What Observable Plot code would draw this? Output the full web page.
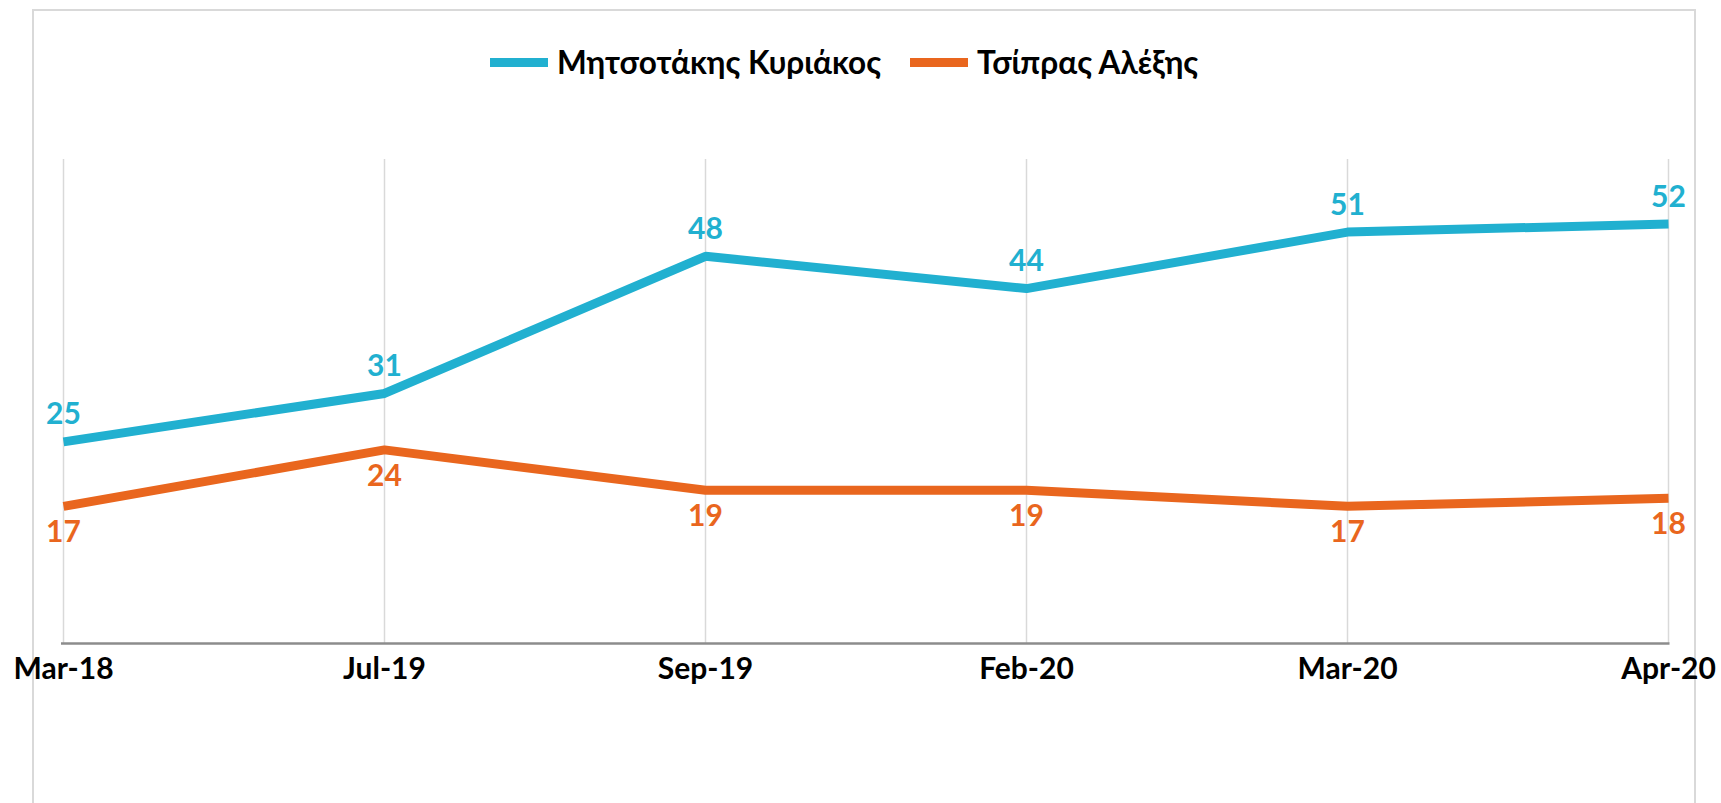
<!DOCTYPE html>
<html>
<head>
<meta charset="utf-8">
<script src="https://cdn.jsdelivr.net/npm/d3@7"></script>
<script src="https://cdn.jsdelivr.net/npm/@observablehq/plot@0.6"></script>
<style>
  html, body { margin: 0; padding: 0; background: #fff; overflow: hidden; }
  #wrap { position: relative; width: 1721px; height: 803px; overflow: hidden; }
  #frame { position: absolute; left: 32px; top: 9px; width: 1664px; height: 900px; border: 2px solid #d9d9d9; box-sizing: border-box; }
  #legend { position: absolute; left: 490px; top: 47px; display: flex; align-items: center; font-family: Lato, "DejaVu Sans", sans-serif; font-size: 31.5px; font-weight: bold; color: #000; line-height: 1; }
  .item { display: flex; align-items: center; margin-right: 29px; }
  .sw { width: 58px; height: 9px; margin-right: 9px; }
  #chart { position: absolute; left: 0; top: 0; }
</style>
</head>
<body>
<div id="wrap">
  <div id="frame"></div>
  <div id="chart"></div>
  <div id="legend"></div>
</div>
<script>
const dates = ["Mar-18", "Jul-19", "Sep-19", "Feb-20", "Mar-20", "Apr-20"];
const mitsotakis = [25, 31, 48, 44, 51, 52];
const tsipras = [17, 24, 19, 19, 17, 18];
const seriesNames = ["Μητσοτάκης Κυριάκος", "Τσίπρας Αλέξης"];
const seriesColors = ["#21b0d0", "#e9661e"];

const blueData = dates.map((d, i) => ({date: d, value: mitsotakis[i], series: seriesNames[0]}));
const orangeData = dates.map((d, i) => ({date: d, value: tsipras[i], series: seriesNames[1]}));
const data = blueData.concat(orangeData);

const chart = Plot.plot({
  width: 1721,
  height: 803,
  marginLeft: 61,
  marginRight: 51.5,
  marginTop: 159,
  marginBottom: 160,
  style: {fontFamily: "Lato, 'DejaVu Sans', sans-serif", background: "transparent", overflow: "visible"},
  x: {type: "point", domain: dates, padding: 0, label: null},
  y: {domain: [0, 60], axis: null},
  color: {domain: seriesNames, range: seriesColors},
  marks: [
    Plot.ruleX(dates, {x: d => d, y1: 0, y2: 60, stroke: "#d9d9d9", strokeWidth: 1.5}),
    Plot.ruleY([0], {stroke: "#8c8c8c", strokeWidth: 2.5}),
    Plot.line(data, {x: "date", y: "value", z: "series", stroke: "series", strokeWidth: 9, strokeLinecap: "butt", strokeLinejoin: "miter", curve: "linear"}),
    Plot.text(blueData, {x: "date", y: "value", text: d => String(d.value), dy: -27, lineAnchor: "middle", fill: seriesColors[0], fontSize: 30, fontWeight: "bold"}),
    Plot.text(orangeData, {x: "date", y: "value", text: d => String(d.value), dy: 26, lineAnchor: "middle", fill: seriesColors[1], fontSize: 30, fontWeight: "bold"}),
    Plot.axisX({tickSize: 0, tickPadding: 14, fontSize: 30, fontWeight: "bold", color: "#000", label: null})
  ]
});
document.getElementById("chart").appendChild(chart);

const legend = document.getElementById("legend");
seriesNames.forEach((name, i) => {
  const item = document.createElement("div");
  item.className = "item";
  const sw = document.createElement("div");
  sw.className = "sw";
  sw.style.background = seriesColors[i];
  const label = document.createElement("span");
  label.textContent = name;
  item.appendChild(sw);
  item.appendChild(label);
  legend.appendChild(item);
});
</script>
</body>
</html>
